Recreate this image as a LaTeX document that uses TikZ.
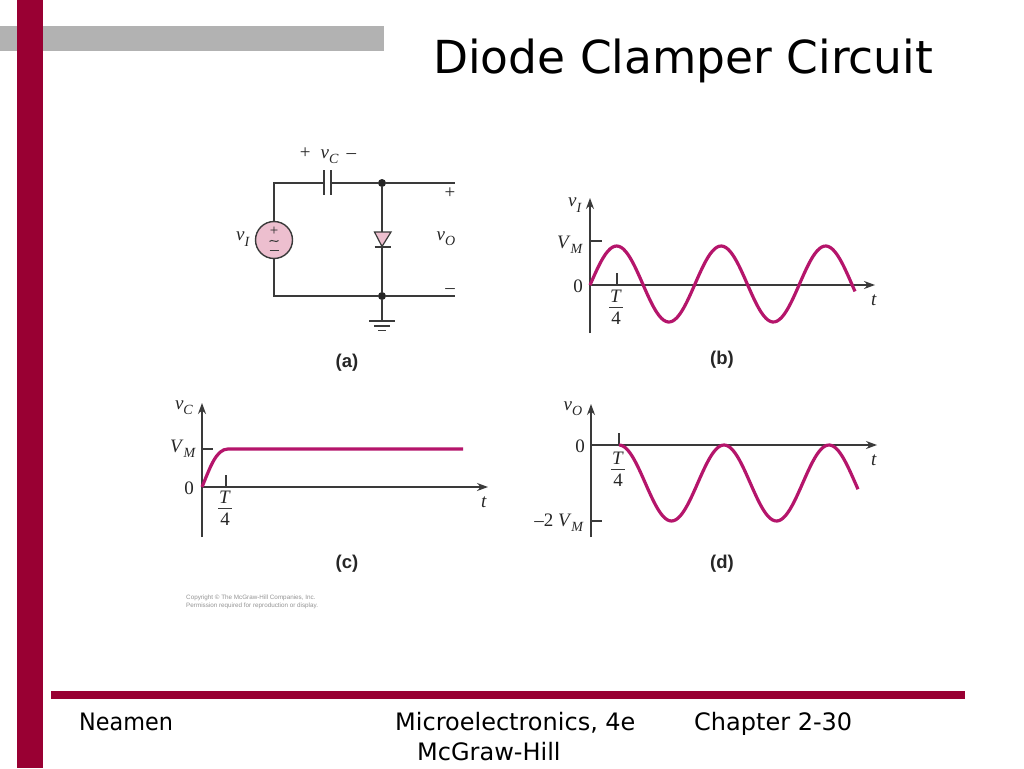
\documentclass[tikz,border=0pt]{standalone}
\usepackage{fontspec}
\setmainfont{Liberation Serif}
\newfontfamily\slidefont{DejaVu Sans}
\newfontfamily\narrowfoot[FakeStretch=0.93]{DejaVu Sans}
\newfontfamily\capfont{Liberation Sans}
\usetikzlibrary{arrows.meta}
\definecolor{barred}{HTML}{990033}
\definecolor{bargray}{HTML}{B2B2B2}
\definecolor{wave}{HTML}{B5156B}
\definecolor{wire}{HTML}{3A3A3A}
\definecolor{pinkfill}{HTML}{EDBFCF}
\newcommand{\sym}[2]{\textit{#1}\raisebox{-0.28em}{\fontsize{14}{14}\selectfont\textit{#2}}}
\tikzset{
  wireline/.style={draw=wire,line width=1.4pt},
  axisline/.style={draw=wire,line width=1.2pt},
  axisarrow/.style={axisline,-{Stealth[length=11pt,width=8pt]}},
  waveline/.style={draw=wave,line width=3.2pt,line join=round},
  lab/.style={inner sep=0pt,text=black!85,font=\fontsize{19}{21}\selectfont},
  caplab/.style={inner sep=0pt,text=black!85,font=\capfont\bfseries\fontsize{18.5}{20}\selectfont},
  foot/.style={inner sep=0pt,anchor=base west,font=\slidefont\fontsize{24}{28}\selectfont},
  dotn/.style={circle,fill=black!85,inner sep=0pt,minimum size=8pt},
  fracbar/.style={draw=wire,line width=0.9pt},
}
\begin{document}
\begin{tikzpicture}[x=1pt,y=-1pt]
\useasboundingbox (0,0) rectangle (1024,768);
\fill[white] (0,0) rectangle (1024,768);
% slide furniture
\fill[bargray] (0,26) rectangle (384,51);
\fill[barred] (17,0) rectangle (43,768);
\fill[barred] (51,691) rectangle (965,699);
\node[foot,font=\slidefont\fontsize{45.5}{50}\selectfont] (title) at (433,73) {Diode Clamper Circuit};
\node[foot,font=\narrowfoot\fontsize{24}{28}\selectfont] (f1) at (79,730) {Neamen};
\node[foot] (f2) at (395,730) {Microelectronics, 4e};
\node[foot] (f3) at (417,760) {McGraw-Hill};
\node[foot] (f4) at (694,730) {Chapter 2-30};

% (a) circuit
\coordinate (tl) at (274,183);
\coordinate (bl) at (274,296);
\coordinate (tr) at (455,183);
\coordinate (br) at (455,296);
\coordinate (capl) at (324,183);
\coordinate (capr) at (331,183);
\node[circle,draw=wire,line width=1.4pt,fill=pinkfill,minimum size=37pt,inner sep=0pt] (src) at (274,240) {};
\node[dotn] (ntop) at (382,183) {};
\node[dotn] (nbot) at (382,296) {};
\coordinate (dtop) at (382,232);
\coordinate (dbot) at (382,247);
\coordinate (gnd) at (382,321);
\draw[wireline] (src.north) -- (tl) -- (capl);
\draw[wireline] (capr) -- (ntop) -- (tr);
\draw[wireline] (src.south) -- (bl) -- (nbot) -- (br);
\draw[wireline,line width=1.7pt] (324,170) -- (324,195) (331,170) -- (331,195);
\draw[wireline] (ntop) -- (dtop) (dbot) -- (nbot) -- (gnd);
\draw[wireline,line width=1.2pt,fill=pinkfill] (374.5,232) -- (391,232) -- (382,246.5) -- cycle;
\draw[wireline,line width=1.2pt] (374.5,247) -- (391,247);
\draw[wireline,line width=1.3pt] (369,321) -- (395,321) (374,326) -- (390,326) (378,330.5) -- (386,330.5);
\node[inner sep=0pt,text=black!85,font=\fontsize{15}{15}\selectfont] (splus) at (274,231.5) {+};
\draw[wire,line width=1pt] (269.5,241.5) .. controls (271.5,238.5) and (276.5,243.5) .. (278.5,240.5);
\draw[wire,line width=1pt] (269.5,250) -- (278.5,250);
\node[lab] (vi) at (243,239) {\sym{v}{I}};
\node[lab] (vc) at (328,156) {+\hspace{10pt}\sym{v}{C}\hspace{8pt}\textendash};
\node[lab] (vo) at (446,239) {\sym{v}{O}};
\node[lab] (oplus) at (450,193) {+};
\node[lab] (ominus) at (450,291) {\textendash};
\node[caplab] (capa) at (347,363) {(a)};

% (b)
\draw[axisline] (590,333) -- (590,245);
\draw[axisarrow] (590,250) -- (590,198);
\draw[axisarrow] (590,285) -- (875,285);
\draw[axisline] (590,241) -- (602,241) (617,273) -- (617,285);
\draw[waveline] plot[domain=590:855,samples=120,smooth] (\x,{284-38*sin((\x-590.5)*3.445)});
\node[lab] (bv) at (575,205) {\sym{v}{I}};
\node[lab] (bm) at (570,245) {\sym{V}{M}};
\node[lab] (b0) at (578,286) {0};
\node[lab] (bt) at (616,296.5) {\textit{T}};
\draw[fracbar] (609,307) -- (623,307);
\node[lab] (bf) at (616,318) {4};
\node[lab] (btt) at (874,300) {\textit{t}};
\node[caplab] (capb) at (722,360) {(b)};

% (c)
\draw[axisline] (202,537) -- (202,440);
\draw[axisarrow] (202,450) -- (202,403);
\draw[axisarrow] (202,487) -- (488,487);
\draw[axisline] (202,449) -- (213,449) (226,475) -- (226,487);
\draw[waveline] (202,487) .. controls (210,468) and (216,449) .. (228,449) -- (463,449);
\node[lab] (cv) at (184,408) {\sym{v}{C}};
\node[lab] (cm) at (183,449) {\sym{V}{M}};
\node[lab] (c0) at (189,488) {0};
\node[lab] (ct) at (225,497.5) {\textit{T}};
\draw[fracbar] (218,508) -- (232,508);
\node[lab] (cf) at (225,519) {4};
\node[lab] (ctt) at (484,502) {\textit{t}};
\node[caplab] (capc) at (347,564) {(c)};
\node[inner sep=0pt,anchor=north west,align=left,text=black!42,font=\capfont\fontsize{6.3}{7.4}\selectfont] (copy) at (186,595) {Copyright \textcopyright{} The McGraw-Hill Companies, Inc.\\Permission required for reproduction or display.};

% (d)
\draw[axisline] (591,537) -- (591,440);
\draw[axisarrow] (591,450) -- (591,404);
\draw[axisarrow] (591,445) -- (877,445);
\draw[axisline] (590,521) -- (602,521) (619,433) -- (619,445);
\draw[waveline] plot[domain=619:858,samples=110,smooth] (\x,{483-38*cos((\x-619)*3.4286)});
\node[lab] (dv) at (573,409) {\sym{v}{O}};
\node[lab] (d0) at (580,446) {0};
\node[lab] (dt) at (618,458.5) {\textit{T}};
\draw[fracbar] (611,469) -- (625,469);
\node[lab] (df) at (618,480) {4};
\node[lab] (dm) at (559,523) {\textendash2 \sym{V}{M}};
\node[lab] (dtt) at (874,460) {\textit{t}};
\node[caplab] (capd) at (722,564) {(d)};
\end{tikzpicture}
\end{document}
